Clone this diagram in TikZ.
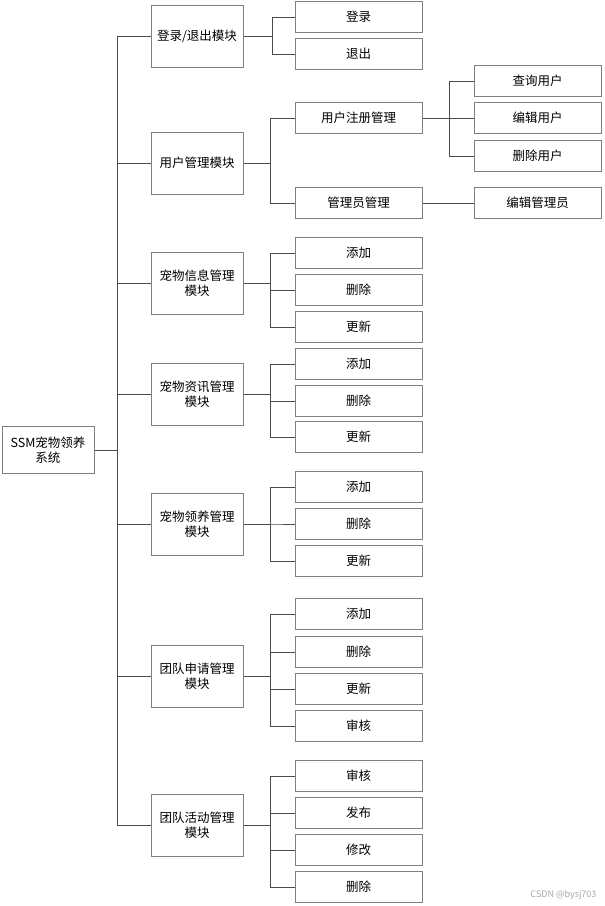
\documentclass[tikz,border=0pt]{standalone}
\usepackage{fontspec}
\setmainfont{Noto Sans CJK SC}
\usetikzlibrary{positioning}

\begin{document}
\begin{tikzpicture}[
    x=1pt, y=-1pt,
    every node/.style={font=\fontsize{12.5}{15.5}\selectfont},
    rootbox/.style={rectangle, draw=black!50, line width=1pt, minimum width=92pt, minimum height=47pt, align=center, inner sep=2pt},
    modbox/.style={rectangle, draw=black!50, line width=1pt, minimum width=92pt, minimum height=62pt, align=center, inner sep=2pt},
    leafbox/.style={rectangle, draw=black!50, line width=1pt, minimum width=127pt, minimum height=31pt, align=center, inner sep=2pt},
    link/.style={draw=black!70, line width=0.9pt}
]
\useasboundingbox (0,0) rectangle (605,906);

% Root and modules
\node[rootbox] (root) at (48, 450) {SSM宠物领养\\系统};
\node[modbox] (login) at (197, 36) {登录/退出模块};
\node[modbox] (user) at (197, 163) {用户管理模块};
\node[modbox] (petinfo) at (197, 283) {宠物信息管理\\模块};
\node[modbox] (petnews) at (197, 394) {宠物资讯管理\\模块};
\node[modbox] (adopt) at (197, 524) {宠物领养管理\\模块};
\node[modbox] (apply) at (197, 676) {团队申请管理\\模块};
\node[modbox] (activity) at (197, 825) {团队活动管理\\模块};
\foreach \m in {login, user, petinfo, petnews, adopt, apply, activity}
    \draw[link] (root.east) -- ++(23,0) |- (\m.west);

% Login / logout
\node[leafbox] (login1) at (358.5, 17) {登录};
\node[leafbox] (login2) at (358.5, 54) {退出};
\draw[link] (login.east) -- ++(29,0) |- (login1.west);
\draw[link] (login.east) -- ++(29,0) |- (login2.west);

% User management
\node[leafbox] (reg) at (358.5, 118) {用户注册管理};
\node[leafbox] (admin) at (358.5, 203) {管理员管理};
\draw[link] (user.east) -- ++(27,0) |- (reg.west);
\draw[link] (user.east) -- ++(27,0) |- (admin.west);
\node[leafbox] (query) at (537.5, 81) {查询用户};
\node[leafbox] (edituser) at (537.5, 118) {编辑用户};
\node[leafbox] (deluser) at (537.5, 156) {删除用户};
\node[leafbox] (editadmin) at (537.5, 203) {编辑管理员};
\draw[link] (reg.east) -- ++(27,0) |- (query.west);
\draw[link] (reg.east) -- (edituser.west);
\draw[link] (reg.east) -- ++(27,0) |- (deluser.west);
\draw[link] (admin.east) -- (editadmin.west);

% Pet info
\node[leafbox] (info1) at (358.5, 253) {添加};
\node[leafbox] (info2) at (358.5, 290) {删除};
\node[leafbox] (info3) at (358.5, 327) {更新};
\foreach \l in {info1, info2, info3}
    \draw[link] (petinfo.east) -- ++(27,0) |- (\l.west);

% Pet news
\node[leafbox] (news1) at (358.5, 364) {添加};
\node[leafbox] (news2) at (358.5, 401) {删除};
\node[leafbox] (news3) at (358.5, 437) {更新};
\foreach \l in {news1, news2, news3}
    \draw[link] (petnews.east) -- ++(27,0) |- (\l.west);

% Adoption
\node[leafbox] (adopt1) at (358.5, 487) {添加};
\node[leafbox] (adopt2) at (358.5, 524) {删除};
\node[leafbox] (adopt3) at (358.5, 561) {更新};
\foreach \l in {adopt1, adopt2, adopt3}
    \draw[link] (adopt.east) -- ++(27,0) |- (\l.west);

% Team application
\node[leafbox] (apply1) at (358.5, 614) {添加};
\node[leafbox] (apply2) at (358.5, 652) {删除};
\node[leafbox] (apply3) at (358.5, 689) {更新};
\node[leafbox] (apply4) at (358.5, 726) {审核};
\foreach \l in {apply1, apply2, apply3, apply4}
    \draw[link] (apply.east) -- ++(27,0) |- (\l.west);

% Team activity
\node[leafbox] (act1) at (358.5, 776) {审核};
\node[leafbox] (act2) at (358.5, 813) {发布};
\node[leafbox] (act3) at (358.5, 850) {修改};
\node[leafbox] (act4) at (358.5, 887) {删除};
\foreach \l in {act1, act2, act3, act4}
    \draw[link] (activity.east) -- ++(27,0) |- (\l.west);

% Watermark
\node[font=\fontsize{9}{11}\selectfont, text=black!35, anchor=east] (mark) at (600, 895) {CSDN @bysj703};

\end{tikzpicture}
\end{document}
